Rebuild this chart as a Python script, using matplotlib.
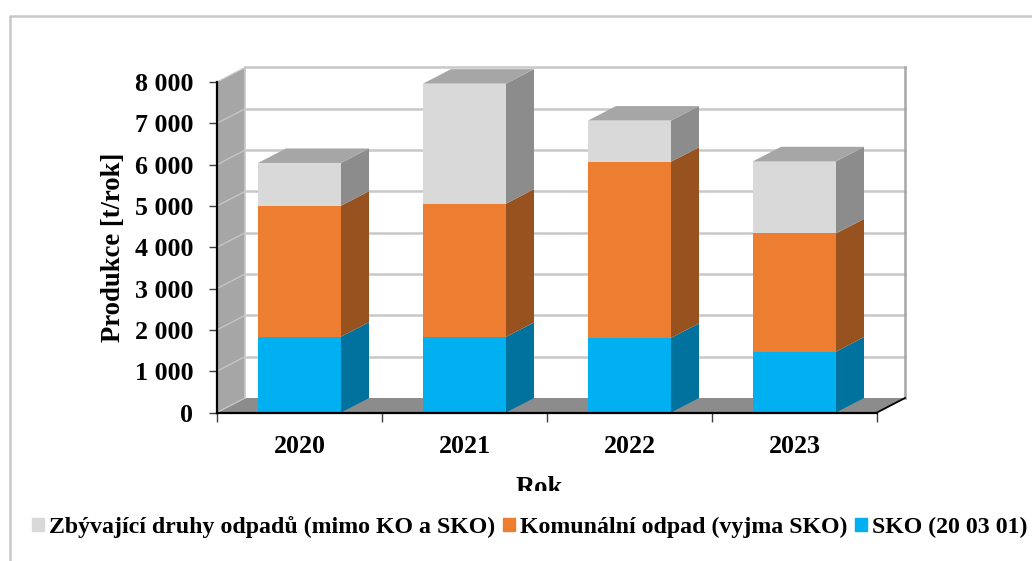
import matplotlib
matplotlib.use('Agg')
import matplotlib.pyplot as plt
from matplotlib.patches import Patch, Polygon
from matplotlib.lines import Line2D
from matplotlib.transforms import Bbox

years = ['2020', '2021', '2022', '2023']
sko = [1835, 1830, 1806, 1474]
komunalni = [3171, 3225, 4264, 2861]
zbyvajici = [1034, 2905, 996, 1745]

series_names = ['SKO (20 03 01)', 'Komunální odpad (vyjma SKO)',
                'Zbývající druhy odpadů (mimo KO a SKO)']
front_colors = ['#00b0f0', '#ed7d31', '#d9d9d9']
side_colors = ['#00729d', '#98521f', '#8c8c8c']
top_color = '#a6a6a6'
wall_color = '#a6a6a6'
floor_color = '#8c8c8c'
grid_color = '#c8c8c8'
y_ticks = list(range(0, 9000, 1000))
y_tick_labels = ['0', '1 000', '2 000', '3 000', '4 000', '5 000', '6 000', '7 000', '8 000']

W, H = 1032, 561
plt.rcParams['font.family'] = ['Liberation Serif', 'DejaVu Serif']
plt.rcParams['font.weight'] = 'bold'

fig = plt.figure(figsize=(W / 100, H / 100), dpi=100)
ax = fig.add_axes([217 / W, 1 - 412.5 / H, 660 / W, 330.5 / H])
ax.set_xlim(0, 4)
ax.set_ylim(0, 8000)
ax.patch.set_visible(False)

# depth of the fake 3D box, in data units
dx = 28 / 165
dy = 14.5 / 330.5 * 8000
bar_w = 83 / 165


def poly(points, color, z):
    ax.add_patch(Polygon(points, closed=True, facecolor=color, edgecolor='none',
                         clip_on=False, zorder=z))


# left wall and floor
poly([(0, 0), (dx, dy), (dx, 8000 + dy), (0, 8000)], wall_color, 1)
poly([(0, 0), (4, 0), (4 + dx, dy), (dx, dy)], floor_color, 1)

# gridlines on the back wall and the left wall
for y in y_ticks:
    ax.plot([0, dx], [y, y + dy], color=grid_color, lw=0.9, clip_on=False, zorder=1.5)
    if y > 0:
        ax.plot([dx, 4 + dx], [y + dy, y + dy], color=grid_color, lw=1.8, clip_on=False, zorder=1.5)
ax.plot([dx, dx], [dy, 8000 + dy], color=grid_color, lw=1.3, clip_on=False, zorder=1.5)
ax.plot([4 + dx, 4 + dx], [dy, 8000 + dy], color='#a6a6a6', lw=1.8, clip_on=False, zorder=1.5)
ax.plot([4, 4 + dx], [0, dy], color='black', lw=1.3, clip_on=False, zorder=1.6)

# bars, front faces through ax.bar and the sides as polygons
positions = [i + 0.5 for i in range(len(years))]
bottoms = [0] * len(years)
for values, name, fc, sc in zip([sko, komunalni, zbyvajici], series_names, front_colors, side_colors):
    ax.bar(positions, values, bar_w, bottom=bottoms, color=fc, zorder=3, clip_on=False)
    for x, v, b in zip(positions, values, bottoms):
        r = x + bar_w / 2
        poly([(r, b), (r + dx, b + dy), (r + dx, b + v + dy), (r, b + v)], sc, 3)
    bottoms = [b + v for b, v in zip(bottoms, values)]
for x, t in zip(positions, bottoms):
    l, r = x - bar_w / 2, x + bar_w / 2
    poly([(l, t), (r, t), (r + dx, t + dy), (l + dx, t + dy)], top_color, 3)

for side in ['top', 'right']:
    ax.spines[side].set_visible(False)
ax.spines['left'].set_linewidth(1.6)
ax.spines['bottom'].set_linewidth(1.6)
ax.spines['left'].set_zorder(4)
ax.spines['bottom'].set_zorder(4)

ax.set_yticks(y_ticks)
ax.set_yticklabels(y_tick_labels, fontsize=18.7, fontweight='bold')
ax.set_xticks(range(5))
ax.set_xticklabels([])
ax.set_xticks(positions, minor=True)
ax.set_xticklabels(years, minor=True, fontsize=18.7, fontweight='bold')
ax.tick_params(axis='y', length=5.5, width=1, color='#404040', pad=11.5)
ax.tick_params(axis='x', which='major', length=6.5, width=1, color='#404040')
ax.tick_params(axis='x', which='minor', length=0, pad=16)

ax.set_ylabel('Produkce [t/rok]', fontsize=19.2, fontweight='bold')
ax.yaxis.set_label_coords(-0.138, 0.5)
ax.set_xlabel('Rok', fontsize=19.2, fontweight='bold')
ax.xaxis.set_label_coords(0.489, -0.192)
# the label is cut off by the legend area in the original
ax.xaxis.label.set_clip_on(True)
ax.xaxis.label.set_clip_box(Bbox([[0, H - 491], [W, H]]))

handles = [Patch(color=c) for c in front_colors[::-1]]
fig.legend(handles, series_names[::-1], loc='center left', bbox_to_anchor=(32 / W, 1 - 527 / H),
           ncol=3, frameon=False, fontsize=17.2, handlelength=0.5, handleheight=0.5,
           handletextpad=0.21, columnspacing=0.33, borderpad=0, borderaxespad=0)

# chart border
fig.add_artist(Line2D([9.5 / W, 9.5 / W, 1], [0, 1 - 16 / H, 1 - 16 / H], color='#c8c8c8', lw=1.8))

fig.savefig('out.png', dpi=100)
